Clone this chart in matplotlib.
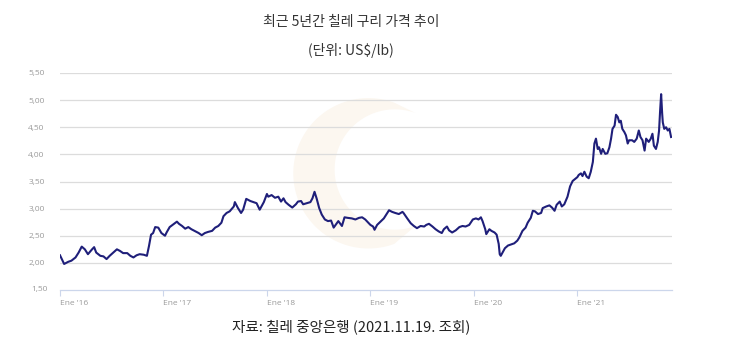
import numpy as np
import matplotlib
matplotlib.use("Agg")
import matplotlib.pyplot as plt
from matplotlib.patches import Polygon

# ---- data: (fraction of year, US$/lb) ----
f16 = [0.00,0.04,0.08,0.11,0.15,0.18,0.21,0.24,0.27,0.31,0.33,0.35,0.39,0.42,0.45,0.48,0.52,0.55,0.58,0.61,0.65,0.68,0.71,0.74,0.77,0.81,0.84,0.86,0.88,0.90,0.92,0.95,0.98]
v16 = [2.14,1.98,2.02,2.04,2.10,2.19,2.30,2.25,2.16,2.25,2.29,2.19,2.13,2.12,2.07,2.13,2.20,2.25,2.22,2.18,2.18,2.13,2.10,2.14,2.16,2.15,2.13,2.31,2.52,2.55,2.66,2.65,2.55]

f17 = [0.015,0.03,0.06,0.095,0.13,0.15,0.18,0.21,0.24,0.27,0.30,0.34,0.37,0.40,0.43,0.47,0.50,0.53,0.56,0.58,0.61,0.64,0.68,0.69,0.72,0.75,0.77,0.80,0.84,0.87,0.90,0.93,0.97]
v17 = [2.50,2.56,2.66,2.71,2.76,2.72,2.68,2.63,2.66,2.62,2.59,2.55,2.51,2.55,2.57,2.59,2.65,2.68,2.74,2.86,2.92,2.95,3.04,3.12,3.01,2.92,2.98,3.18,3.14,3.12,3.10,2.98,3.12]

f18 = [0.00,0.013,0.045,0.078,0.11,0.136,0.16,0.18,0.21,0.245,0.28,0.30,0.33,0.35,0.385,0.42,0.44,0.46,0.48,0.505,0.53,0.56,0.59,0.62,0.645,0.667,0.69,0.725,0.75,0.78,0.82,0.855,0.89,0.92,0.95,0.98]
v18 = [3.27,3.22,3.25,3.20,3.22,3.13,3.19,3.12,3.07,3.02,3.08,3.13,3.14,3.08,3.10,3.12,3.19,3.31,3.19,3.01,2.89,2.80,2.77,2.78,2.65,2.71,2.77,2.68,2.84,2.83,2.82,2.80,2.83,2.84,2.80,2.74]

f19 = [0.0,0.026,0.04,0.065,0.097,0.13,0.16,0.18,0.21,0.24,0.275,0.31,0.32,0.356,0.39,0.42,0.45,0.485,0.52,0.54,0.566,0.60,0.63,0.66,0.69,0.71,0.74,0.76,0.79,0.825,0.86,0.89,0.92,0.955,0.99]
v19 = [2.70,2.67,2.61,2.70,2.76,2.82,2.91,2.97,2.94,2.92,2.90,2.94,2.92,2.82,2.73,2.68,2.64,2.68,2.67,2.70,2.72,2.67,2.62,2.58,2.55,2.62,2.67,2.60,2.56,2.60,2.66,2.68,2.67,2.70,2.80]

f20 = [0.02,0.045,0.068,0.084,0.11,0.12,0.15,0.17,0.20,0.22,0.24,0.25,0.26,0.28,0.30,0.33,0.36,0.39,0.42,0.44,0.47,0.50,0.52,0.55,0.57,0.59,0.62,0.65,0.665,0.70,0.73,0.755,0.78,0.80,0.83,0.85,0.874,0.905,0.93,0.955,0.98]
v20 = [2.82,2.80,2.84,2.77,2.62,2.53,2.62,2.59,2.56,2.52,2.35,2.16,2.13,2.20,2.27,2.32,2.34,2.36,2.41,2.47,2.59,2.65,2.74,2.83,2.96,2.95,2.90,2.92,3.01,3.04,3.06,3.02,2.96,3.07,3.13,3.04,3.08,3.22,3.41,3.51,3.55]

f21 = [0.0,0.013,0.035,0.05,0.068,0.09,0.11,0.13,0.15,0.165,0.18,0.197,0.21,0.23,0.245,0.27,0.29,0.31,0.326,0.34,0.36,0.374,0.39,0.406,0.42,0.435,0.455,0.47,0.487,0.50,0.53,0.55,0.574,0.594,0.61,0.63,0.65,0.665,0.69,0.71,0.726,0.74,0.76,0.777,0.79,0.80,0.81,0.82,0.826,0.84,0.858,0.874,0.89,0.906]
v21 = [3.58,3.62,3.65,3.60,3.68,3.59,3.56,3.68,3.86,4.20,4.29,4.10,4.13,4.01,4.10,4.01,4.02,4.13,4.29,4.47,4.53,4.73,4.69,4.59,4.62,4.47,4.41,4.35,4.20,4.26,4.26,4.23,4.29,4.44,4.32,4.26,4.07,4.29,4.23,4.29,4.38,4.16,4.10,4.23,4.44,4.80,5.11,4.75,4.59,4.47,4.50,4.44,4.47,4.32]

years = [2016, 2017, 2018, 2019, 2020, 2021]
x_labels = ["Ene '16", "Ene '17", "Ene '18", "Ene '19", "Ene '20", "Ene '21"]
y_ticks = [1.5, 2.0, 2.5, 3.0, 3.5, 4.0, 4.5, 5.0, 5.5]
y_labels = ["1,50", "2,00", "2,50", "3,00", "3,50", "4,00", "4,50", "5,00", "5,50"]

title = "최근 5년간 칠레 구리 가격 추이"
subtitle = "(단위: US$/lb)"
source = "자료: 칠레 중앙은행 (2021.11.19. 조회)"

fr = [f16, f17, f18, f19, f20, f21]
vals = [v16, v17, v18, v19, v20, v21]
x = np.concatenate([y + np.array(f) for y, f in zip(years, fr)])
y = np.concatenate([np.array(v) for v in vals])

plt.rcParams['font.family'] = ['Noto Sans CJK KR', 'DejaVu Sans']

W, H = 752, 361
fig = plt.figure(figsize=(W / 100, H / 100), dpi=100)
fig.patch.set_facecolor('white')

# very faint watermark (crescent) behind the plot
wm = fig.add_axes([0.37, 0.24, 0.24, 0.56], zorder=0)
wm.set_xlim(-1.2, 1.2); wm.set_ylim(-1.2, 1.2); wm.set_aspect('equal')
wm.axis('off')
t1 = np.linspace(np.deg2rad(70), np.deg2rad(290), 100)
t2 = np.linspace(np.deg2rad(290), np.deg2rad(70), 100)
outer = np.column_stack([np.cos(t1), np.sin(t1)])
inner = np.column_stack([0.35 + 0.8 * np.cos(t2), 0.05 + 0.8 * np.sin(t2)])
wm.add_patch(Polygon(np.vstack([outer, inner]), closed=True, facecolor='#fcf7f0', edgecolor='none'))

L, R, B, T = 60, 672, 290, 73
ax = fig.add_axes([L / W, 1 - B / H, (R - L) / W, (B - T) / H], zorder=1)
ax.set_facecolor('none')
ax.plot(x, y, color='#1f1f7a', lw=1.5, zorder=3)

ax.set_xlim(2016.0, 2021.915)
ax.set_ylim(1.5, 5.5)
ax.set_yticks(y_ticks[1:])
ax.set_yticklabels(y_labels[1:])
ax.grid(axis='y', color='#dcdcdc', lw=0.9)
ax.set_axisbelow(True)
for s in ['top', 'right', 'left']:
    ax.spines[s].set_visible(False)
ax.spines['bottom'].set_color('#ccd6eb')
ax.spines['bottom'].set_linewidth(0.9)
ax.tick_params(axis='y', length=0, pad=11, labelsize=6, labelcolor='#9a9a9a')
ax.set_xticks(years)
ax.set_xticklabels(x_labels, ha='left', fontfamily=['Open Sans', 'DejaVu Sans'])
ax.tick_params(axis='x', length=4, color='#ccd6eb', pad=3, labelsize=6, labelcolor='#9a9a9a')
for lab in ax.get_yticklabels():
    lab.set_fontfamily(['Open Sans', 'DejaVu Sans'])
# bottom 1,50 label
ax.text(-12 / (R - L), 0, y_labels[0], transform=ax.transAxes, ha='right', va='center',
        fontsize=6, color='#9a9a9a', fontfamily=['Open Sans', 'DejaVu Sans'])

cx = 351 / W
fig.text(cx, 1 - 22 / H, title, ha='center', va='center', fontsize=10, color='#333333')
fig.text(cx, 1 - 50 / H, subtitle, ha='center', va='center', fontsize=10, color='#333333')
fig.text(cx, 1 - 327 / H, source, ha='center', va='center', fontsize=10.5, color='#222222')

fig.savefig('out.png', dpi=100, facecolor='white')
